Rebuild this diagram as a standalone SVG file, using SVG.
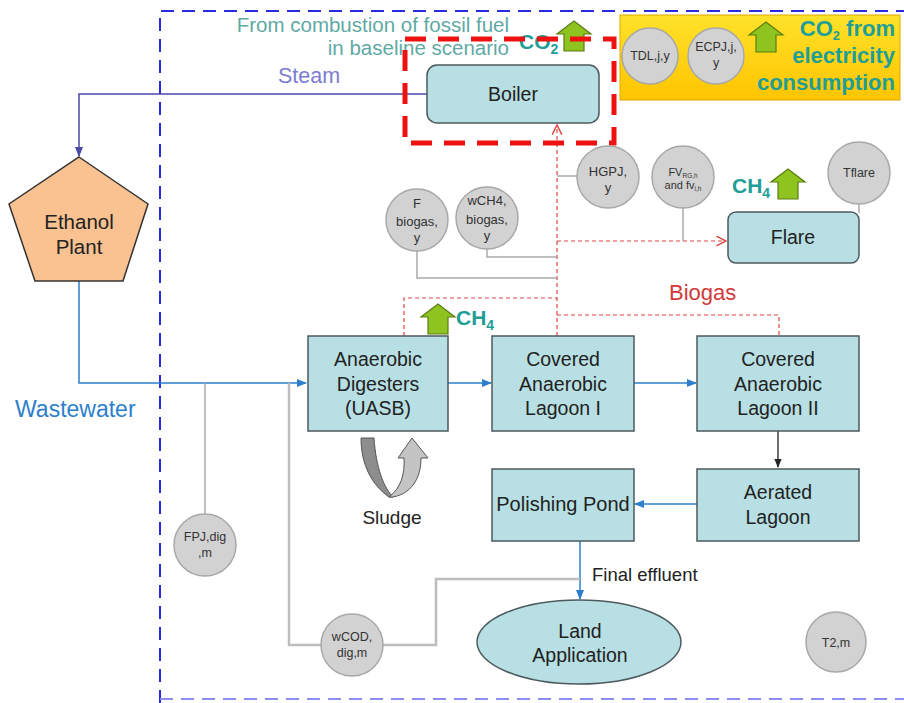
<svg xmlns="http://www.w3.org/2000/svg" width="904" height="703" viewBox="0 0 904 703">
<style>
text{font-family:"Liberation Sans",Arial,sans-serif;text-anchor:middle;fill:#222}
.box{fill:#b8dfe3;stroke:#4c5a5e;stroke-width:1.5}
.lbl{font-size:19.5px}
.par{fill:#d2d2d2;stroke:#a8a8a8;stroke-width:1.5}
.pt{font-size:13px;fill:#333}
.teal{fill:#1e9e96;font-weight:bold}
.red{fill:none;stroke:#d44;stroke-width:1.2;stroke-dasharray:4 3}
.gl{fill:none;stroke:#aaa;stroke-width:1.5}
.gl2{fill:none;stroke:#bdbdbd;stroke-width:2.5}
.blue{fill:none;stroke:#2d7fcc;stroke-width:1.5}
.arr{fill:#8fc31f;stroke:#5b7d12;stroke-width:1.2}
</style>
<defs>
<path id="up" d="M17,0 L34,13 L27,13 L27,30 L7,30 L7,13 L0,13 Z"/>
<marker id="mb" viewBox="0 0 10 10" refX="9" refY="5" markerWidth="7" markerHeight="7" orient="auto"><path d="M0,1 L10,5 L0,9 Z" fill="#2d7fcc"/></marker>
<marker id="mk" viewBox="0 0 10 10" refX="9" refY="5" markerWidth="7" markerHeight="7" orient="auto"><path d="M0,1 L10,5 L0,9 Z" fill="#222"/></marker>
<marker id="mp" viewBox="0 0 10 10" refX="9" refY="5" markerWidth="7" markerHeight="7" orient="auto"><path d="M0,1 L10,5 L0,9 Z" fill="#4a4aa8"/></marker>
<marker id="mr" viewBox="0 0 10 10" refX="9" refY="5" markerWidth="10" markerHeight="10" orient="auto"><path d="M1,1 L9,5 L1,9" fill="none" stroke="#d44" stroke-width="1.2"/></marker>
<linearGradient id="yg" x1="0" y1="0" x2="0" y2="1"><stop offset="0" stop-color="#ffe22a"/><stop offset="1" stop-color="#ffc400"/></linearGradient>
</defs>

<!-- project boundary -->
<g id="boundary">
<path d="M160,703 L160,11 L904,11" fill="none" stroke="#2a2ae0" stroke-width="2" stroke-dasharray="13 8"/>
<path d="M160,699 L904,699" fill="none" stroke="#8c8cf2" stroke-width="2" stroke-dasharray="13 8"/>
</g>

<!-- electricity CO2 panel -->
<g id="electricity">
<rect x="620" y="15" width="280" height="85" fill="url(#yg)" stroke="#e0a800" stroke-width="1"/>
<circle class="par" cx="650" cy="56" r="28"/>
<text class="pt" x="650" y="60" style="font-size:12.5px">TDL,j,y</text>
<circle class="par" cx="716" cy="56" r="28"/>
<text class="pt" x="716" y="51" style="font-size:12.5px">ECPJ,j,</text>
<text class="pt" x="716" y="67" style="font-size:12.5px">y</text>
<use href="#up" x="749" y="22" class="arr"/>
<text class="teal" x="895" y="36" style="text-anchor:end;font-size:22px">CO<tspan font-size="13" dy="4">2</tspan><tspan dy="-4"> from</tspan></text>
<text class="teal" x="895" y="63" style="text-anchor:end;font-size:22px">electricity</text>
<text class="teal" x="895" y="90" style="text-anchor:end;font-size:22px">consumption</text>
</g>

<!-- connectors -->
<g id="connectors">
<path d="M427,94 L79,94 L79,156" fill="none" stroke="#4a4aa8" stroke-width="1.5" marker-end="url(#mp)"/>
<path class="blue" d="M79,281 L79,383 L306,383" marker-end="url(#mb)"/>
<path class="blue" d="M448,383 L491,383" marker-end="url(#mb)"/>
<path class="blue" d="M634,383 L696,383" marker-end="url(#mb)"/>
<path d="M778,431 L778,467" fill="none" stroke="#222" stroke-width="1.3" marker-end="url(#mk)"/>
<path class="blue" d="M697,504 L635,504" marker-end="url(#mb)"/>
<path class="blue" d="M580,541 L580,599" marker-end="url(#mb)"/>
<!-- biogas -->
<path class="red" d="M404,336 L404,298 L557,298"/>
<path class="red" d="M557,336 L557,125" marker-end="url(#mr)"/>
<path class="red" d="M557,315 L779,315 L779,336"/>
<path class="red" d="M557,241 L726,241" marker-end="url(#mr)"/>
<!-- parameter links -->
<path class="gl" d="M577,176 L557,176"/>
<path class="gl" d="M683,208 L683,241"/>
<path class="gl" d="M487,249 L487,257 L557,257"/>
<path class="gl" d="M417,251 L417,278 L557,278"/>
<path class="gl" d="M859,204 L859,213"/>
<path class="gl" d="M205,383 L205,514"/>
<path class="gl2" d="M289,383 L289,645 L322,645"/>
<path class="gl2" d="M383,645 L436,645 L436,579 L580,579"/>
</g>

<!-- boiler -->
<g id="boiler">
<text x="509" y="32" style="text-anchor:end;font-size:20.5px;fill:#5fa9a4">From combustion of fossil fuel</text>
<text x="509" y="55" style="text-anchor:end;font-size:20.5px;fill:#5fa9a4">in baseline scenario</text>
<text class="teal" x="519" y="49" style="text-anchor:start;font-size:21px">CO<tspan font-size="14" dy="5">2</tspan></text>
<use href="#up" x="557" y="21" class="arr"/>
<text x="278" y="83" style="text-anchor:start;font-size:21.5px;fill:#7c7cd0">Steam</text>
<rect class="box" x="427" y="65" width="172" height="58" rx="10"/>
<text class="lbl" x="513" y="101">Boiler</text>
<rect x="405" y="39" width="209" height="104" fill="none" stroke="#ee1111" stroke-width="5" stroke-dasharray="21 12"/>
</g>

<g id="ethanol">
<path d="M79,157 L148,204 L123,281 L35,281 L9,204 Z" fill="#fac191" stroke="#333" stroke-width="1.5"/>
<text x="79" y="229" style="font-size:20.5px">Ethanol</text>
<text x="79" y="254" style="font-size:20.5px">Plant</text>
<text x="15" y="417" style="text-anchor:start;font-size:23px;fill:#2d7fcc">Wastewater</text>
</g>

<g id="params">
<circle class="par" cx="417" cy="220" r="31"/>
<text class="pt" x="417" y="208">F</text>
<text class="pt" x="417" y="226">biogas,</text>
<text class="pt" x="417" y="242">y</text>
<circle class="par" cx="487" cy="218" r="31"/>
<text class="pt" x="487" y="205">wCH4,</text>
<text class="pt" x="487" y="224">biogas,</text>
<text class="pt" x="487" y="240">y</text>
<circle class="par" cx="608" cy="177" r="31"/>
<text class="pt" x="608" y="176">HGPJ,</text>
<text class="pt" x="608" y="192">y</text>
<circle class="par" cx="683" cy="177" r="31"/>
<text x="683" y="176" style="font-size:11px;fill:#333">FV<tspan font-size="6.5" dy="2">RG,h</tspan></text>
<text x="683" y="189" style="font-size:11px;fill:#333">and fv<tspan font-size="6.5" dy="2">i,h</tspan></text>
<circle class="par" cx="859" cy="173" r="31"/>
<text class="pt" x="859" y="177" style="font-size:12.5px">Tflare</text>
<circle class="par" cx="205" cy="545" r="31"/>
<text class="pt" x="205" y="541" style="font-size:12.5px">FPJ,dig</text>
<text class="pt" x="205" y="557" style="font-size:12.5px">,m</text>
<circle class="par" cx="352" cy="645" r="31"/>
<text class="pt" x="352" y="641" style="font-size:12.5px">wCOD,</text>
<text class="pt" x="352" y="657" style="font-size:12.5px">dig,m</text>
<circle class="par" cx="836" cy="642" r="30"/>
<text class="pt" x="836" y="647" style="font-size:12.5px">T2,m</text>
</g>

<g id="flare">
<text class="teal" x="732" y="193" style="text-anchor:start;font-size:21px">CH<tspan font-size="14" dy="5">4</tspan></text>
<use href="#up" x="771" y="169" class="arr"/>
<rect class="box" x="728" y="212" width="131" height="51" rx="8"/>
<text class="lbl" x="793" y="244">Flare</text>
</g>

<text x="669" y="300" style="text-anchor:start;font-size:22px;fill:#d23a3a">Biogas</text>

<g id="digester">
<use href="#up" x="421" y="304" class="arr"/>
<text class="teal" x="456" y="325" style="text-anchor:start;font-size:21px">CH<tspan font-size="14" dy="5">4</tspan></text>
<rect class="box" x="308" y="336" width="140" height="95"/>
<text class="lbl" x="378" y="366">Anaerobic</text>
<text class="lbl" x="378" y="391">Digesters</text>
<text class="lbl" x="378" y="415">(UASB)</text>
</g>

<g id="lagoon1">
<rect class="box" x="492" y="336" width="142" height="95"/>
<text class="lbl" x="563" y="366">Covered</text>
<text class="lbl" x="563" y="391">Anaerobic</text>
<text class="lbl" x="563" y="415">Lagoon I</text>
</g>

<g id="lagoon2">
<rect class="box" x="697" y="336" width="162" height="95"/>
<text class="lbl" x="778" y="366">Covered</text>
<text class="lbl" x="778" y="391">Anaerobic</text>
<text class="lbl" x="778" y="415">Lagoon II</text>
</g>

<g id="aerated">
<rect class="box" x="697" y="469" width="162" height="72"/>
<text class="lbl" x="778" y="499">Aerated</text>
<text class="lbl" x="778" y="524">Lagoon</text>
</g>

<g id="polishing">
<rect class="box" x="492" y="469" width="142" height="72"/>
<text class="lbl" x="563" y="511" style="font-size:20px">Polishing Pond</text>
</g>

<g id="sludge">
<path d="M361,438 L374,438 C376,468 384,488 393,497 L389,497 C372,485 361,465 361,438 Z" fill="#8d8d8d" stroke="#555" stroke-width="1"/>
<path d="M389,497 C401,488 405,474 404,458 L398,458 L412,438 L428,458 L421,458 C421,480 410,494 393,497 Z" fill="#c4c4c4" stroke="#555" stroke-width="1"/>
<text x="392" y="524" style="font-size:19px">Sludge</text>
</g>

<text x="592" y="581" style="text-anchor:start;font-size:18.5px">Final effluent</text>

<g id="land">
<ellipse class="box" cx="579" cy="642" rx="102" ry="42"/>
<text class="lbl" x="580" y="638">Land</text>
<text class="lbl" x="580" y="662">Application</text>
</g>
</svg>
